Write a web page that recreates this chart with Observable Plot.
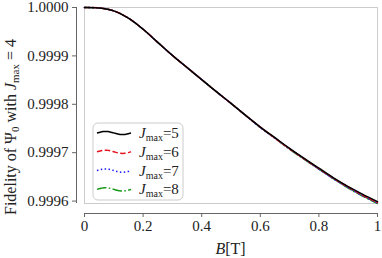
<!DOCTYPE html>
<html><head><meta charset="utf-8">
<script src="https://cdn.jsdelivr.net/npm/d3@7"></script>
<script src="https://cdn.jsdelivr.net/npm/@observablehq/plot@0.6"></script>
<style>
html,body{margin:0;padding:0;background:#fff;}
#chart{width:382px;height:258px;}
</style>
</head><body><div id="chart"></div>
<script>
const B = [0,0.05,0.1,0.15,0.2,0.25,0.3,0.35,0.4,0.45,0.5,0.55,0.6,0.65,0.7,0.75,0.8,0.85,0.9,0.95,1.0];
const J5 = [1.000000,0.999999,0.999993,0.999978,0.999955,0.999928,0.999901,0.999876,0.999851,0.999826,0.999802,0.999777,0.999753,0.999731,0.999709,0.999688,0.999668,0.999648,0.999630,0.999614,0.999599];
const J6 = [1.000000,0.999999,0.999993,0.999978,0.999955,0.999928,0.999901,0.999876,0.999851,0.999826,0.999802,0.999777,0.999753,0.999730,0.999708,0.999687,0.999667,0.999647,0.999629,0.999612,0.999597];
const J7 = [1.000000,0.999999,0.999993,0.999978,0.999955,0.999928,0.999901,0.999876,0.999851,0.999826,0.999802,0.999777,0.999752,0.999730,0.999708,0.999687,0.999666,0.999646,0.999628,0.999611,0.999596];
const J8 = [1.000000,0.999999,0.999993,0.999978,0.999955,0.999928,0.999901,0.999876,0.999851,0.999826,0.999802,0.999777,0.999752,0.999730,0.999707,0.999686,0.999666,0.999646,0.999627,0.999610,0.999595];
const seriesNames = ["5","6","7","8"];
const seriesValues = [J5, J6, J7, J8];
const seriesColors = ["#000000","#e8141e","#1a1aff","#1a9a1a"];
const seriesDash = [null,"5.5,2.4","1.5,2.4","9.6,2.4,1.5,2.4"];
const xTicks = [0,0.2,0.4,0.6,0.8,1];
const xTickLabels = ["0","0.2","0.4","0.6","0.8","1"];
const yTicks = [0.9996,0.9997,0.9998,0.9999,1.0];
const yTickLabels = ["0.9996","0.9997","0.9998","0.9999","1.0000"];

const FONT = "Liberation Serif";
const drawOrder = [3,2,1,0];
const lineMarks = drawOrder.map(k =>
  Plot.line(B.map((b,i)=>({B:b, F:seriesValues[k][i]})), {
    x:"B", y:"F", stroke: seriesColors[k], strokeWidth:1.5,
    strokeDasharray: seriesDash[k] || undefined, curve:"catmull-rom"
  })
);

const chart = Plot.plot({
  width:382, height:258,
  marginLeft:84, marginRight:5, marginTop:7, marginBottom:55,
  x:{domain:[0,1]},
  y:{domain:[0.999595,1.0]},
  style:{fontFamily:FONT, fontSize:"15px", background:"white", color:"#222"},
  marks:[
    Plot.frame({stroke:"#cccccc", strokeWidth:1}),
    Plot.ruleX([0], {dx:-8, stroke:"#666"}),
    Plot.ruleY([0.999595], {dy:10, stroke:"#666"}),
    Plot.axisY({ticks:yTicks, tickFormat:(d)=>yTickLabels[yTicks.indexOf(d)], tickSize:4, dx:-8, tickPadding:4, label:null, stroke:"#666", fill:"#222"}),
    Plot.axisX({ticks:xTicks, tickFormat:(d)=>xTickLabels[xTicks.indexOf(d)], tickSize:4, dy:10, tickPadding:3, label:null, stroke:"#666", fill:"#222"}),
    ...lineMarks
  ]
});
document.getElementById("chart").appendChild(chart);

const svg = d3.select(chart);
// x label
const xl = svg.append("text").attr("x",230.5).attr("y",254).attr("text-anchor","middle")
  .attr("font-family",FONT).attr("font-size",16).attr("fill","#222");
xl.append("tspan").attr("font-style","italic").text("B");
xl.append("tspan").text("[T]");
// y label
const yl = svg.append("text").attr("transform","translate(16,127) rotate(-90)").attr("text-anchor","middle")
  .attr("font-family",FONT).attr("font-size",16).attr("fill","#222");
yl.append("tspan").text("Fidelity of Ψ");
yl.append("tspan").attr("font-size",11).attr("dy",3).text("0");
yl.append("tspan").attr("dy",-3).text(" with ");
yl.append("tspan").attr("font-style","italic").text("J");
yl.append("tspan").attr("font-size",11).attr("dy",3).text("max");
yl.append("tspan").attr("dy",-3).text(" = 4");

// legend
const lg = svg.append("g");
lg.append("rect").attr("x",93).attr("y",123).attr("width",90).attr("height",77).attr("rx",5)
  .attr("fill","white").attr("fill-opacity",0.8).attr("stroke","#cccccc");
const wave = d3.range(0,35).map(t=>[97+t, -1.6*Math.sin(t/34*2*Math.PI)]);
seriesNames.forEach((n,i)=>{
  const yc = 133 + 18.8*i;
  lg.append("path").attr("d", d3.line().curve(d3.curveBasis)(wave.map(([x,y])=>[x,y+yc])))
    .attr("fill","none").attr("stroke",seriesColors[i]).attr("stroke-width",1.5)
    .attr("stroke-dasharray", seriesDash[i]);
  const t = lg.append("text").attr("x",139).attr("y",yc+5).attr("text-anchor","start")
    .attr("font-family",FONT).attr("font-size",15).attr("fill","#222");
  t.append("tspan").attr("font-style","italic").text("J");
  t.append("tspan").attr("font-size",10).attr("dy",3).text("max");
  t.append("tspan").attr("dy",-3).text("="+n);
});
</script></body></html>
